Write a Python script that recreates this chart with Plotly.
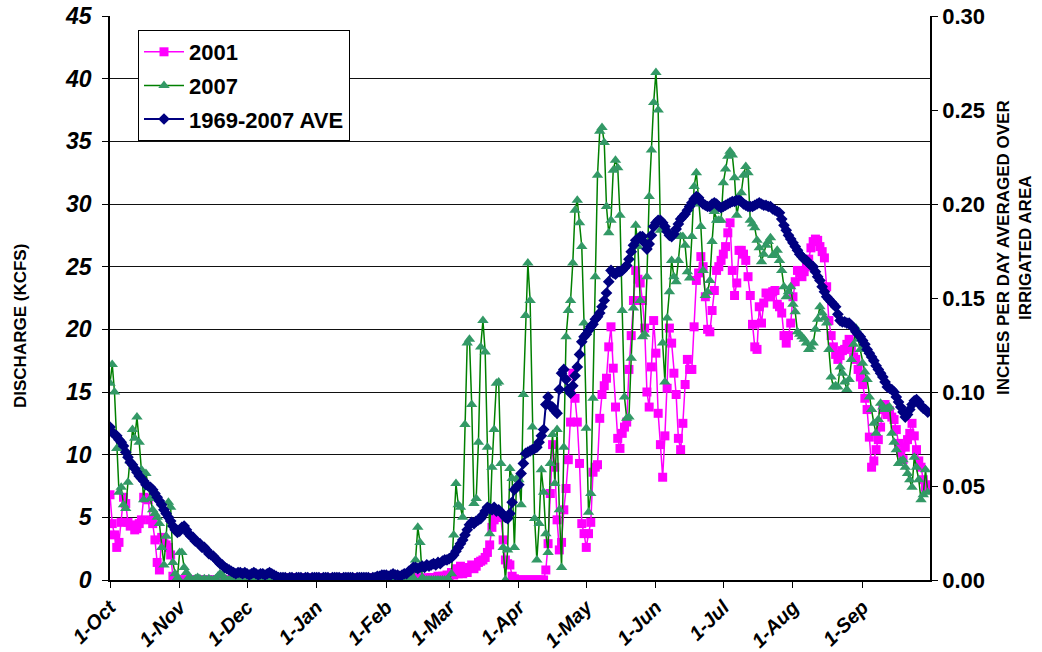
import pandas as pd
import plotly.graph_objects as go

# ---------------- data (daily, 1-Oct .. 30-Sep) ----------------
DATES = pd.date_range("2000-10-01", "2001-09-30", freq="D")

AVE_1969_2007 = [
    # Oct
    12.2, 11.8, 11.6, 11.5, 11.2, 11.0, 10.7, 10.2, 9.8, 9.4, 9.2, 8.9, 8.6, 8.3, 8.1, 7.9,
    7.6, 7.5, 7.4, 7.2, 6.9, 6.6, 6.3, 6.0, 5.6, 5.3, 5.0, 4.7, 4.3, 4.0, 3.8,
    # Nov
    3.9, 4.2, 4.3, 4.0, 3.7, 3.5, 3.4, 3.1, 3.0, 2.9, 2.6, 2.6, 2.4, 2.1, 2.0, 1.9, 1.7,
    1.5, 1.3, 1.2, 1.0, 0.9, 0.8, 0.7, 0.6, 0.5, 0.6, 0.6, 0.5, 0.6,
    # Dec
    0.5, 0.4, 0.5, 0.6, 0.5, 0.4, 0.5, 0.5, 0.4, 0.5, 0.6, 0.5, 0.4, 0.3, 0.2, 0.2, 0.2,
    0.2, 0.1, 0.2, 0.2, 0.1, 0.2, 0.2, 0.2, 0.1, 0.2, 0.2, 0.1, 0.2, 0.2,
    # Jan
    0.2, 0.2, 0.1, 0.2, 0.2, 0.2, 0.1, 0.2, 0.2, 0.2, 0.2, 0.1, 0.2, 0.2, 0.2, 0.2, 0.2,
    0.1, 0.2, 0.2, 0.2, 0.2, 0.2, 0.2, 0.1, 0.2, 0.2, 0.3, 0.3, 0.4, 0.4,
    # Feb
    0.4, 0.3, 0.4, 0.5, 0.4, 0.4, 0.3, 0.4, 0.5, 0.5, 0.7, 0.8, 1.0, 1.0, 0.9, 1.0, 1.1,
    1.0, 1.2, 1.1, 1.2, 1.3, 1.2, 1.4, 1.3, 1.5, 1.6, 1.6,
    # Mar
    1.7, 1.8, 2.0, 2.3, 2.6, 2.9, 3.2, 3.6, 4.0, 4.4, 4.6, 4.5, 4.7, 4.8, 4.9, 5.2, 5.5,
    5.8, 5.7, 5.6, 5.8, 5.5, 5.6, 5.4, 5.2, 5.0, 4.9, 5.3, 6.2, 7.2, 7.4,
    # Apr
    7.6, 8.5, 9.3, 10.1, 10.2, 10.3, 10.4, 10.5, 10.6, 11.0, 11.5, 12.0, 14.0, 14.6, 13.9,
    13.8, 13.5, 13.3, 15.2, 16.5, 16.8, 16.0, 15.2, 14.9, 15.5, 16.3, 17.0, 18.0, 19.0, 19.4,
    # May
    19.6, 19.9, 20.2, 20.4, 20.8, 21.0, 21.3, 21.8, 22.3, 22.9, 23.8, 24.7, 24.5, 24.4, 24.6,
    24.6, 24.7, 24.9, 25.1, 25.6, 26.2, 26.7, 27.1, 27.2, 27.4, 27.4, 26.9, 26.4, 26.8, 27.5, 28.2,
    # Jun
    28.5, 28.7, 28.7, 28.5, 28.2, 27.8, 27.5, 27.4, 27.6, 28.0, 28.4, 28.8, 29.0, 29.2, 29.5,
    29.8, 30.1, 30.4, 30.6, 30.5, 30.2, 30.0, 29.9, 29.8, 29.8, 30.0, 30.1, 30.0, 29.8, 29.7,
    # Jul
    29.8, 29.9, 30.0, 30.1, 30.2, 30.2, 30.3, 30.3, 30.2, 30.0, 29.9, 29.8, 29.8, 29.8, 29.9,
    30.0, 30.1, 30.0, 29.9, 29.9, 29.8, 29.8, 29.6, 29.5, 29.4, 29.3, 28.8, 28.3, 27.9, 27.5, 27.2,
    # Aug
    26.9, 26.6, 26.3, 26.0, 25.8, 25.6, 25.5, 25.3, 25.1, 25.0, 24.6, 24.2, 23.9, 23.4, 23.0,
    22.6, 22.4, 22.2, 22.0, 21.8, 21.2, 20.7, 20.6, 20.6, 20.5, 20.5, 20.3, 20.1, 19.8, 19.6, 19.4,
    # Sep
    19.1, 18.8, 18.4, 18.1, 17.8, 17.5, 17.1, 16.8, 16.5, 16.2, 15.8, 15.4, 15.3, 15.2, 15.0,
    14.6, 14.2, 13.8, 13.4, 13.0, 13.2, 13.6, 14.0, 14.3, 14.4, 14.2, 13.9, 13.7, 13.6, 13.4,
]

Y2001 = [
    # Oct
    6.8, 4.5, 3.6, 2.6, 3.0, 4.6, 6.6, 6.1, 4.6, 4.3, 4.4, 4.0, 4.1, 4.5, 4.8, 6.6, 6.5,
    6.4, 4.8, 4.5, 3.2, 1.4, 0.8, 3.4, 2.9, 2.8, 2.6, 2.0, 0.3, 0.0, 0.0,
    # Nov
    0.0, 0.0, 0.0, 0.0, 0.0, 0.0, 0.0, 0.0, 0.0, 0.0, 0.0, 0.0, 0.0, 0.0, 0.0, 0.0, 0.0,
    0.0, 0.0, 0.0, 0.0, 0.0, 0.0, 0.0, 0.0, 0.0, 0.0, 0.0, 0.0, 0.0,
    # Dec
    0.0, 0.0, 0.0, 0.0, 0.0, 0.0, 0.0, 0.0, 0.0, 0.0, 0.0, 0.0, 0.0, 0.15, 0.15, 0.15, 0.15,
    0.15, 0.15, 0.15, 0.15, 0.15, 0.15, 0.15, 0.15, 0.15, 0.15, 0.15, 0.15, 0.15, 0.15,
    # Jan
    0.15, 0.15, 0.15, 0.15, 0.15, 0.15, 0.15, 0.15, 0.15, 0.15, 0.15, 0.15, 0.15, 0.15, 0.15,
    0.15, 0.15, 0.15, 0.15, 0.15, 0.15, 0.15, 0.15, 0.15, 0.15, 0.15, 0.15, 0.15, 0.15, 0.15, 0.15,
    # Feb
    0.15, 0.15, 0.15, 0.15, 0.15, 0.15, 0.15, 0.15, 0.15, 0.15, 0.15, 0.15, 0.15, 0.15, 0.15,
    0.15, 0.15, 0.15, 0.15, 0.15, 0.2, 0.2, 0.2, 0.3, 0.2, 0.3, 0.3, 0.4,
    # Mar
    0.3, 0.6, 0.4, 0.9, 0.5, 1.1, 0.5, 0.8, 0.6, 1.0, 1.2, 0.9, 1.1, 1.4, 1.5, 1.6, 1.8,
    2.2, 2.8, 4.2, 4.8, 5.0, 5.1, 5.0, 3.2, 1.6, 1.3, 1.2, 0.3, 0.1, 0.0,
    # Apr
    0.0, 0.0, 0.0, 0.0, 0.0, 0.0, 0.0, 0.0, 0.0, 0.0, 0.0, 0.0, 0.8, 2.9, 6.9, 10.8, 9.0,
    4.8, 2.4, 3.0, 5.6, 7.3, 9.6, 12.6, 16.5, 14.5, 12.6, 9.3, 4.5, 3.7,
    # May
    2.6, 3.7, 4.6, 8.6, 9.0, 9.2, 12.9, 14.8, 15.5, 16.1, 18.6, 20.2, 16.9, 13.8, 11.3, 10.5,
    11.7, 12.2, 12.6, 16.8, 19.5, 22.3, 24.7, 24.0, 23.7, 22.3, 20.1, 15.0, 13.8, 17.0, 20.7,
    # Jun
    18.1, 13.3, 10.8, 8.2, 11.5, 15.3, 20.1, 18.9, 16.5, 14.8, 11.3, 10.4, 12.5, 15.6, 17.6,
    16.8, 16.8, 20.2, 23.9, 24.5, 25.8, 25.0, 22.6, 20.0, 19.8, 21.5, 23.1, 24.7, 25.0, 25.5,
    # Jul
    26.0, 26.6, 27.7, 28.5, 24.7, 22.7, 23.7, 26.3, 26.3, 26.0, 25.5, 24.2, 22.7, 20.4, 18.6,
    18.4, 21.8, 20.5, 22.1, 22.9, 22.6, 22.6, 23.0, 23.1, 22.0, 21.8, 21.3, 19.5, 18.9, 19.5, 20.5,
    # Aug
    22.6, 23.8, 24.7, 24.5, 24.2, 24.6, 25.0, 25.6, 26.5, 27.0, 27.2, 27.1, 26.6, 26.2, 25.7,
    23.4, 20.7, 19.5, 18.6, 18.0, 17.6, 17.9, 18.3, 18.4, 18.8, 19.2, 18.5, 17.8, 17.6, 16.8, 16.2,
    # Sep
    15.6, 14.5, 13.6, 11.4, 9.0, 9.5, 10.4, 11.2, 12.2, 13.6, 14.0, 13.2, 13.5, 13.0, 12.8,
    12.0, 10.9, 10.2, 9.6, 10.6, 11.2, 11.7, 12.5, 11.5, 10.4, 9.5, 9.0, 8.0, 7.4, 7.6,
]

Y2007 = [
    # Oct
    15.7, 17.2, 15.0, 10.5, 7.0, 7.4, 6.0, 5.7, 7.8, 9.5, 12.0, 11.3, 13.0, 11.0, 8.8, 6.4,
    8.5, 7.4, 6.5, 5.6, 5.3, 5.0, 4.5, 2.6, 1.2, 3.5, 6.2, 5.8, 1.4, 0.5, 0.2,
    # Nov
    2.2, 2.2, 1.0, 0.6, 0.2, 0.1, 0.0, 0.1, 0.2, 0.1, 0.0, 0.1, 0.0, 0.1, 0.0, 0.0, 0.1,
    0.3, 0.5, 0.4, 0.1, 0.0, 0.0, 0.1, 0.0, 0.0, 0.0, 0.1, 0.0, 0.0,
    # Dec
    0.0, 0.0, 0.1, 0.0, 0.0, 0.1, 0.2, 0.4, 0.3, 0.1, 0.0, 0.0, 0.0, 0.0, 0.0, 0.0, 0.0,
    0.0, 0.0, 0.0, 0.0, 0.0, 0.0, 0.0, 0.0, 0.0, 0.0, 0.0, 0.0, 0.0, 0.0,
    # Jan
    0.0, 0.0, 0.0, 0.0, 0.0, 0.0, 0.0, 0.0, 0.0, 0.0, 0.0, 0.0, 0.0, 0.0, 0.0, 0.0, 0.0,
    0.0, 0.0, 0.0, 0.0, 0.0, 0.0, 0.0, 0.0, 0.0, 0.0, 0.0, 0.0, 0.0, 0.0,
    # Feb
    0.0, 0.0, 0.0, 0.0, 0.0, 0.0, 0.0, 0.0, 0.0, 0.0, 0.0, 0.0, 0.2, 1.6, 4.2, 3.0, 0.2,
    0.0, 0.0, 0.0, 0.0, 0.0, 0.0, 0.0, 0.0, 0.0, 0.0, 0.0,
    # Mar
    0.0, 0.5, 3.6, 7.7, 6.0, 5.8, 5.0, 12.4, 18.9, 19.2, 14.0, 6.1, 6.5, 11.0, 18.6, 20.7,
    18.2, 10.6, 3.7, 9.0, 12.0, 15.7, 15.8, 9.3, 2.6, 0.0, 2.4, 8.9, 8.1, 2.6, 8.1,
    # Apr
    8.0, 6.0, 14.8, 21.1, 25.3, 22.3, 12.2, 4.9, 1.6, 4.5, 8.8, 7.0, 3.7, 2.2, 9.3, 11.6,
    7.7, 12.0, 5.6, 1.0, 10.6, 19.4, 21.5, 22.3, 25.3, 29.5, 30.3, 28.5, 26.6, 20.5,
    # May
    12.1, 5.4, 6.9, 14.5, 24.2, 32.3, 35.8, 36.1, 34.9, 29.8, 27.7, 28.7, 32.7, 33.5, 32.9,
    29.1, 21.5, 14.6, 12.9, 13.0, 17.7, 21.7, 28.3, 26.6, 22.3, 19.4, 19.6, 24.2, 30.6, 34.3, 38.1,
    # Jun
    40.5, 37.5, 27.9, 18.9, 15.8, 20.9, 23.0, 25.5, 24.2, 23.8, 25.5, 27.4, 27.4, 26.7, 24.6,
    24.1, 27.4, 31.4, 32.5, 30.0, 28.2, 24.7, 22.7, 23.0, 23.9, 27.0, 29.4, 28.7, 28.7, 28.7,
    # Jul
    31.7, 32.8, 33.8, 34.2, 33.9, 32.1, 29.1, 30.1, 30.9, 32.3, 33.0, 32.5, 28.7, 28.4, 28.1,
    27.1, 26.5, 25.4, 26.0, 26.7, 27.0, 27.3, 25.9, 26.0, 26.3, 25.5, 24.7, 23.4, 22.6, 23.0, 23.4,
    # Aug
    22.0, 21.4, 19.8, 19.6, 19.4, 19.2, 18.9, 18.4, 18.6, 18.9, 20.0, 20.8, 21.8, 21.3, 20.9,
    20.5, 18.4, 16.2, 15.4, 15.5, 15.4, 17.0, 16.5, 15.8, 15.2, 16.0, 17.6, 18.8, 20.1, 19.2, 18.4,
    # Sep
    17.3, 16.6, 16.0, 14.6, 13.6, 12.5, 11.7, 12.8, 14.1, 13.8, 13.6, 13.7, 13.8, 11.7, 11.0,
    10.4, 9.3, 9.5, 9.6, 9.0, 8.5, 8.0, 7.4, 9.8, 9.0, 8.0, 6.4, 6.8, 8.8, 7.0,
]

MONTH_TICKS = ["2000-10-01", "2000-11-01", "2000-12-01", "2001-01-01", "2001-02-01",
               "2001-03-01", "2001-04-01", "2001-05-01", "2001-06-01", "2001-07-01",
               "2001-08-01", "2001-09-01"]
MONTH_LABELS = ["1-Oct", "1-Nov", "1-Dec", "1-Jan", "1-Feb", "1-Mar", "1-Apr",
                "1-May", "1-Jun", "1-Jul", "1-Aug", "1-Sep"]

SERIES_NAMES = ["2001", "2007", "1969-2007 AVE"]

for arr in (AVE_1969_2007, Y2001, Y2007):
    assert len(arr) == len(DATES), len(arr)

FONT = "Liberation Sans, Arial, sans-serif"

# figure fills the page (body margin removed in post_script)
W, H = 1042, 652
PL, PT, PW, PH = 110, 16, 820, 564   # plot area in px


def px_x(x):  # px -> paper x
    return (x - PL) / PW


def px_y(y):  # px -> paper y
    return (PT + PH - y) / PH


fig = go.Figure()
fig.add_trace(go.Scatter(
    x=DATES, y=Y2001, name=SERIES_NAMES[0], mode="lines+markers", legendgroup="a",
    line=dict(color="#FF00FF", width=1.5),
    marker=dict(symbol="square", size=9, color="#FF00FF")))
fig.add_trace(go.Scatter(
    x=DATES, y=Y2007, name=SERIES_NAMES[1], mode="lines+markers", legendgroup="b",
    line=dict(color="#008000", width=1.5),
    marker=dict(symbol="triangle-up", size=10, color="#339966")))
fig.add_trace(go.Scatter(
    x=DATES, y=AVE_1969_2007, name=SERIES_NAMES[2], mode="lines+markers", legendgroup="c",
    line=dict(color="#000080", width=2),
    marker=dict(symbol="diamond", size=9, color="#000080")))
# secondary (right) axis carrier
fig.add_trace(go.Scatter(x=[DATES[0]], y=[None], yaxis="y2", showlegend=False,
                         hoverinfo="skip", mode="markers"))

fig.update_layout(
    width=W, height=H,
    margin=dict(l=PL, r=W - PL - PW, t=PT, b=H - PT - PH, autoexpand=False),
    paper_bgcolor="white", plot_bgcolor="white",
    font=dict(family=FONT, color="black"),
    showlegend=True,
    legend=dict(x=px_x(138), y=px_y(30), xanchor="left", yanchor="top",
                bgcolor="white", bordercolor="black", borderwidth=1,
                font=dict(family=FONT, size=22, weight="bold"),
                tracegroupgap=2, itemwidth=40),
    xaxis=dict(type="date", range=["2000-10-01", "2001-10-01"], automargin=False,
               tickmode="array", tickvals=MONTH_TICKS, ticktext=MONTH_LABELS,
               tickangle=-45, ticks="outside", ticklen=6, tickcolor="black",
               ticklabeloverflow="allow",
               tickfont=dict(family=FONT, size=20, weight="bold", style="italic"),
               showline=True, linecolor="black", linewidth=1.5,
               showgrid=False, zeroline=False),
    yaxis=dict(range=[0, 45], tickmode="linear", dtick=5, tick0=0, ticks="outside",
               ticklen=6, tickcolor="black", automargin=False,
               ticklabeloverflow="allow",
               tickfont=dict(family=FONT, size=23, weight="bold", style="italic"),
               ticklabelstandoff=6,
               showline=True, linecolor="black", linewidth=1.5,
               showgrid=True, gridcolor="#111111", gridwidth=1, zeroline=False),
    yaxis2=dict(overlaying="y", side="right", range=[0, 0.30], tickmode="linear",
                dtick=0.05, tick0=0,
                tickformat=".2f", ticks="outside", ticklen=6, tickcolor="black",
                automargin=False, ticklabelstandoff=0, ticklabeloverflow="allow",
                tickfont=dict(family=FONT, size=22, weight="bold"),
                showline=True, linecolor="black", linewidth=1.5,
                showgrid=False, zeroline=False),
)

# axis titles
fig.add_annotation(text="DISCHARGE (KCFS)", xref="paper", yref="paper",
                   x=px_x(20), y=px_y(326), showarrow=False,
                   textangle=-90, font=dict(family=FONT, size=17, weight="bold"),
                   xanchor="center", yanchor="middle")
fig.add_annotation(text="INCHES PER DAY AVERAGED OVER", xref="paper", yref="paper",
                   x=px_x(1003), y=px_y(248), showarrow=False,
                   textangle=-90, font=dict(family=FONT, size=17, weight="bold"),
                   xanchor="center", yanchor="middle")
fig.add_annotation(text="IRRIGATED AREA", xref="paper", yref="paper",
                   x=px_x(1025), y=px_y(248), showarrow=False,
                   textangle=-90, font=dict(family=FONT, size=17, weight="bold"),
                   xanchor="center", yanchor="middle")

fig.write_html(
    "out.html",
    config={"displayModeBar": False},
    post_script="document.body.style.margin='0';document.body.style.overflow='hidden';",
)
